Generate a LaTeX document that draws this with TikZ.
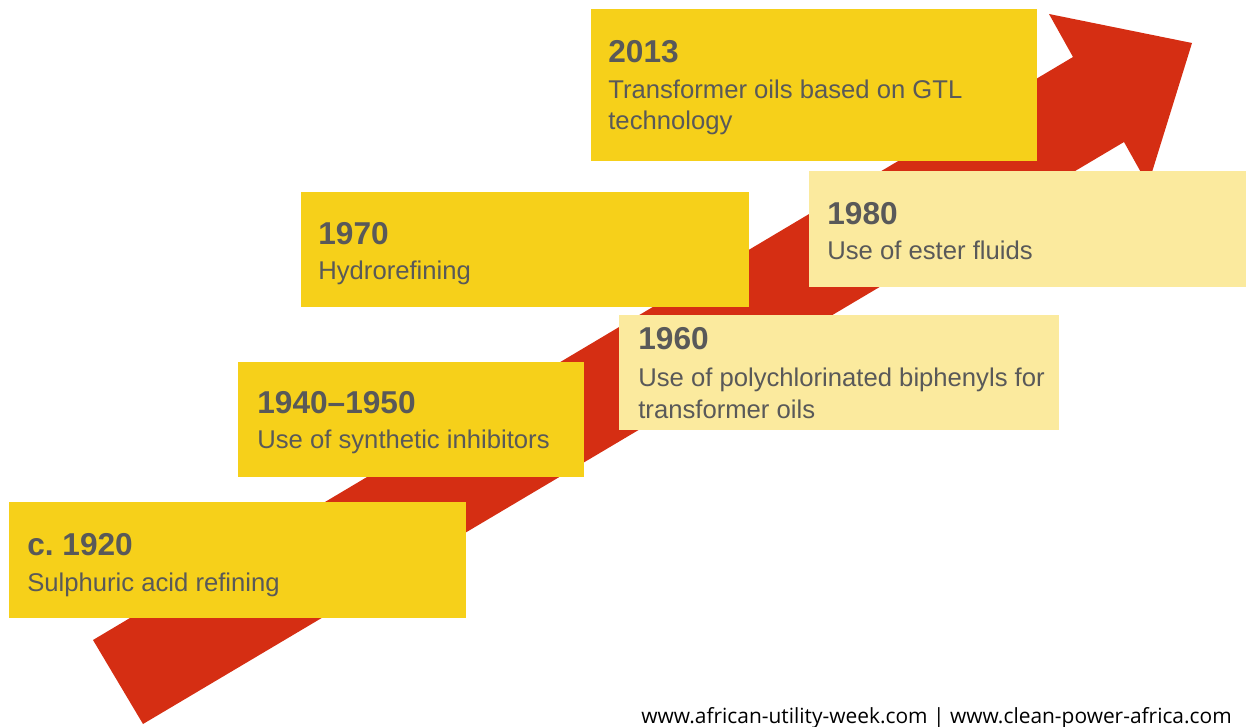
\documentclass[tikz,border=0pt]{standalone}
\usepackage{fontspec}
\setmainfont{Liberation Sans}
\newfontfamily\footerfont{Open Sans}
\definecolor{arrowred}{HTML}{D52E13}
\definecolor{boxyellow}{HTML}{F6D01A}
\definecolor{boxpale}{HTML}{FBEA9E}
\definecolor{textgrey}{HTML}{595959}
\tikzset{
  box/.style 2 args={anchor=north west, inner sep=0pt, outer sep=0pt,
    minimum width=#1*0.02cm, minimum height=#2*0.02cm},
  yearlabel/.style={anchor=base west, inner sep=0pt, text=textgrey,
    font=\fontsize{18}{20}\selectfont\bfseries},
  desclabel/.style={anchor=base west, inner sep=0pt, text=textgrey, align=left,
    font=\fontsize{14.6}{17.8}\selectfont},
}

\begin{document}
\begin{tikzpicture}[x=0.02cm, y=-0.02cm]
        \useasboundingbox (0,0) rectangle (1246,726);

        % the arrow behind the boxes
        \fill[arrowred] (93,640) -- (1073,57) -- (1049,14) -- (1192,43)
                -- (1148,185) -- (1124,142) -- (143,724) -- cycle;

        \node (b1920) [box={457}{116}, fill=boxyellow] at (9,502) {};
        \node (b1940) [box={346}{115}, fill=boxyellow] at (238,362) {};
        \node (b1960) [box={440}{115}, fill=boxpale] at (619,315) {};
        \node (b1970) [box={448}{115}, fill=boxyellow] at (301,192) {};
        \node (b1980) [box={437}{116}, fill=boxpale] at (809,171) {};
        \node (b2013) [box={446}{152}, fill=boxyellow] at (591,9) {};

        % two-line labels sit on the baseline of their last line
        \node (y1920) [yearlabel] at ([shift={(18,53)}]b1920.north west) {c.\ 1920};
        \node (d1920) [desclabel] at ([shift={(18,89)}]b1920.north west) {Sulphuric acid refining};

        \node (y1940) [yearlabel] at ([shift={(19,51)}]b1940.north west) {1940--1950};
        \node (d1940) [desclabel] at ([shift={(19,86)}]b1940.north west) {Use of synthetic inhibitors};

        \node (y1960) [yearlabel] at ([shift={(19,34)}]b1960.north west) {1960};
        \node (d1960) [desclabel] at ([shift={(19,103)}]b1960.north west) {Use of polychlorinated biphenyls for\\transformer oils};

        \node (y1970) [yearlabel] at ([shift={(17,52)}]b1970.north west) {1970};
        \node (d1970) [desclabel] at ([shift={(17,87)}]b1970.north west) {Hydrorefining};

        \node (y1980) [yearlabel] at ([shift={(18,53)}]b1980.north west) {1980};
        \node (d1980) [desclabel] at ([shift={(18,88)}]b1980.north west) {Use of ester fluids};

        \node (y2013) [yearlabel] at ([shift={(17,54)}]b2013.north west) {2013};
        \node (d2013) [desclabel] at ([shift={(17,121)}]b2013.north west) {Transformer oils based on GTL\\technology};

        \node (footer) [anchor=base east, inner sep=0pt, font=\footerfont\fontsize{11.9}{13}\selectfont]
                at (1232,723) {www.african-utility-week.com | www.clean-power-africa.com};
\end{tikzpicture}
\end{document}
